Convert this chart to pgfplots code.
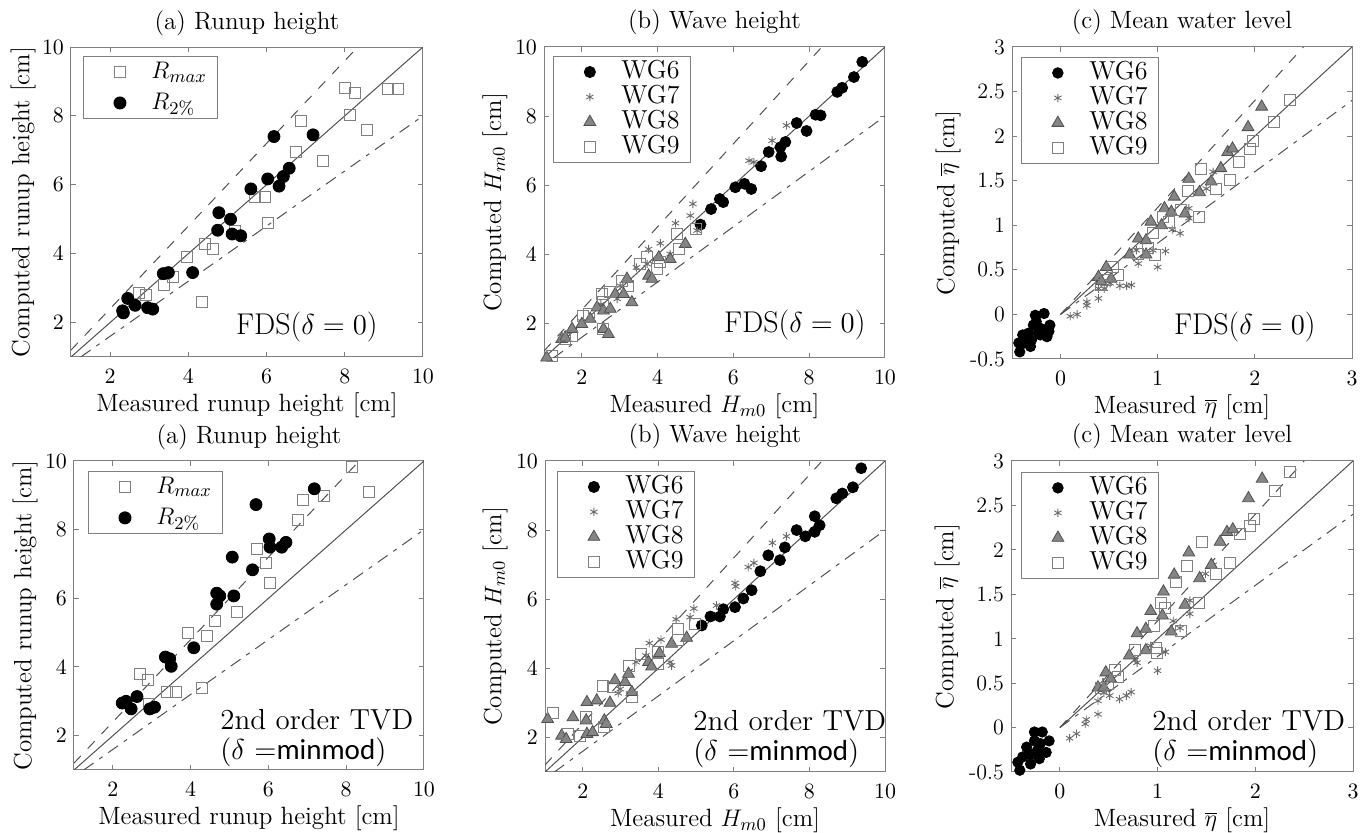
\documentclass[border=0pt]{standalone}
\usepackage{fontspec}
\newfontfamily\carlito{Carlito}
\usepackage{pgfplots}
\pgfplotsset{compat=1.18}
\definecolor{fr}{HTML}{808080}
\definecolor{ln}{HTML}{505050}
\definecolor{trif}{HTML}{858585}
\definecolor{astc}{HTML}{6A6A6A}
\pgfplotsset{
  mylegimg/.style={legend image code/.code={\path (0pt,0pt) (28pt,0pt); \draw[mark repeat=2,mark phase=2,##1] plot coordinates {(0pt,0pt)(14pt,0pt)(28pt,0pt)};}},
  base/.style={
    scale only axis, anchor=south west,
    axis line style={fr, line width=0.5pt},
    tick style={fr, line width=0.5pt},
    tick align=inside, major tick length=2.5pt,
    tick label style={font=\fontsize{11}{13}\selectfont, text=black},
    xticklabel style={yshift=-2.5pt},
    label style={font=\fontsize{12.5}{15}\selectfont},
    xlabel style={at={(rel axis cs:0.5,-0.155)}, anchor=center},
    ylabel style={anchor=center},
    title style={font=\fontsize{12.5}{15}\selectfont, at={(rel axis cs:0.5,1.078)}, anchor=center, yshift=-6pt},
    legend cell align=left,
    legend style={draw=fr, line width=0.5pt, font=\fontsize{13}{15}\selectfont, inner xsep=4pt, inner ysep=1.5pt, anchor=north west, nodes={inner xsep=1.5pt, inner ysep=0.5pt, text height=9pt, text depth=2.5pt}},
  },
  ab/.style={xmin=1,xmax=10,ymin=1,ymax=10,xtick={2,4,6,8,10},ytick={2,4,6,8,10}},
  cc/.style={xmin=-0.5,xmax=3,ymin=-0.5,ymax=3,xtick={0,1,2,3},ytick={-0.5,0,0.5,1,1.5,2,2.5,3},yticklabels={-0.5,0,0.5,1,1.5,2,2.5,3}},
  circ/.style={only marks, mylegimg, mark=*, mark size=#1, mark options={fill=black, draw=black}},
  sq/.style={only marks, mylegimg, mark=square, mark size=2.75pt, mark options={draw=fr, line width=0.5pt}},
  tri/.style={only marks, mylegimg, mark=triangle*, mark size=3.4pt, mark options={fill=trif, draw=ln, line width=0.4pt}},
  ast/.style={only marks, mylegimg, mark=asterisk, mark size=2.1pt, mark options={draw=astc, line width=0.45pt}},
  one/.style={forget plot, ln, line width=0.5pt},
  up/.style={forget plot, ln, line width=0.5pt, dash pattern=on 5pt off 5pt},
  lo/.style={forget plot, ln, line width=0.5pt, dash pattern=on 6pt off 3.5pt on 2pt off 3.5pt},
}
\newcommand{\linesab}{%
  \addplot[one] coordinates {(1,1)(10,10)};
  \addplot[up] coordinates {(1,1.2)(8.3333,10)};
  \addplot[lo] coordinates {(1.25,1)(10,8)};}
\newcommand{\linesc}{%
  \addplot[one] coordinates {(0,0)(3,3)};
  \addplot[up] coordinates {(0,0)(2.5,3)};
  \addplot[lo] coordinates {(0,0)(3,2.4)};}
\newcommand{\fds}{\node[anchor=east, font=\fontsize{15}{17}\selectfont, inner sep=0pt]}
\newcommand{\tvd}{\node[anchor=west, align=left, font=\fontsize{14.5}{15}\selectfont, inner sep=0pt]}
\begin{document}
\begin{tikzpicture}
\path[use as bounding box] (0,0) rectangle (683.5pt,416.5pt);
% ---------------- top (a)
\begin{axis}[base, ab, at={(35.5pt,238pt)}, width=176pt, height=155pt,
  title={(a) Runup height}, xlabel={Measured runup height [cm]}, ylabel={Computed runup height [cm]},
  ylabel style={at={(rel axis cs:-0.136,0.5)}},
  legend style={at={(rel axis cs:0.034,0.971)}, row sep=3pt}]
\linesab
\addplot[sq] coordinates {(2.75,2.87)(2.91,2.79)(3.39,3.09)(3.62,3.31)(3.97,3.91)(4.43,4.28)(4.64,4.13)(4.34,2.60)(5.19,4.67)(5.70,5.65)(5.96,5.65)(6.05,4.89)(6.75,6.94)(6.88,7.85)(7.45,6.70)(8.0,8.81)(8.13,8.04)(8.26,8.66)(8.56,7.58)(9.11,8.77)(9.36,8.77)};
\addlegendentry{$R_{max}$}
\addplot[circ=3pt] coordinates {(2.32,2.34)(2.34,2.28)(2.45,2.70)(2.64,2.50)(2.96,2.43)(3.09,2.39)(3.36,3.42)(3.49,3.45)(4.11,3.45)(4.75,4.68)(4.78,5.19)(5.08,5.0)(5.12,4.57)(5.34,4.52)(5.6,5.88)(6.03,6.17)(6.32,5.96)(6.43,6.24)(6.58,6.48)(6.19,7.40)(7.19,7.45)};
\addlegendentry{$R_{2\%}$}
\fds at (rel axis cs:0.872,0.097) {FDS($\delta = 0$)};
\end{axis}
% ---------------- top (b)
\begin{axis}[base, ab, at={(272pt,237.5pt)}, width=170.5pt, height=155.5pt,
  title={(b) Wave height}, xlabel={Measured $H_{m0}$ [cm]}, ylabel={Computed $H_{m0}$ [cm]},
  ylabel style={at={(rel axis cs:-0.144,0.5)}},
  legend style={at={(rel axis cs:0.026,0.971)}}]
\linesab
\addplot[circ=2.75pt] coordinates {(5.13,4.86)(5.41,5.31)(5.64,5.60)(5.73,5.51)(6.05,5.94)(6.29,6.04)(6.47,5.89)(6.73,6.55)(6.93,6.96)(7.24,7.10)(7.26,6.83)(7.37,7.25)(7.67,7.80)(7.93,7.57)(8.17,8.04)(8.30,8.02)(8.74,8.70)(8.87,8.82)(9.18,9.13)(9.40,9.57)};
\addlegendentry{WG6}
\addplot[ast] coordinates {(7.40,7.73)(7.02,7.29)(6.41,6.71)(6.54,6.67)(4.93,5.46)(4.86,5.12)(4.47,4.90)(4.07,4.32)(3.76,4.15)(4.33,4.01)(3.44,3.62)(3.72,3.72)(3.01,3.09)(2.93,2.71)(5.04,4.69)(2.0,2.05)(2.5,2.55)(1.6,1.6)};
\addlegendentry{WG7}
\addplot[tri] coordinates {(1.07,1.01)(1.47,1.55)(1.56,1.59)(1.74,1.84)(2.0,1.98)(2.22,2.13)(2.40,2.46)(2.57,2.37)(2.75,2.42)(2.88,2.85)(3.10,2.85)(3.19,3.29)(3.32,2.61)(2.57,1.84)(2.70,1.69)(3.76,3.38)(3.85,3.29)(4.03,3.91)(4.33,3.86)(4.73,4.30)};
\addlegendentry{WG8}
\addplot[sq] coordinates {(1.21,1.06)(1.56,1.55)(1.74,1.64)(2.04,2.22)(2.18,2.27)(2.53,2.85)(2.75,2.90)(2.57,2.61)(3.06,3.24)(3.23,3.09)(3.54,3.72)(3.72,3.91)(3.98,3.57)(4.07,3.77)(4.51,4.59)(4.56,4.15)(5.0,4.73)(2.57,1.84)};
\addlegendentry{WG9}
\fds at (rel axis cs:0.944,0.106) {FDS($\delta = 0$)};
\end{axis}
% ---------------- top (c)
\begin{axis}[base, cc, at={(506pt,237pt)}, width=170pt, height=156pt,
  title={(c) Mean water level}, xlabel={Measured $\overline{\eta}$ [cm]}, ylabel={Computed $\overline{\eta}$ [cm]},
  ylabel style={at={(rel axis cs:-0.188,0.5)}},
  legend style={at={(rel axis cs:0.026,0.968)}}]
\linesc
\addplot[circ=2.6pt] coordinates {(-0.43,-0.32)(-0.42,-0.42)(-0.39,-0.23)(-0.33,-0.21)(-0.31,-0.36)(-0.28,-0.12)(-0.26,-0.01)(-0.21,-0.23)(-0.20,-0.16)(-0.25,-0.08)(-0.17,0.01)(-0.14,-0.25)(-0.11,-0.12)(-0.12,-0.19)(-0.30,-0.29)(-0.37,-0.32)(-0.23,-0.21)};
\addlegendentry{WG6}
\addplot[ast] coordinates {(0.10,-0.02)(0.17,0.0)(0.27,0.10)(0.27,0.14)(0.39,0.18)(0.39,0.29)(0.45,0.29)(0.51,0.35)(0.61,0.32)(0.68,0.32)(0.73,0.33)(0.80,0.57)(0.78,0.72)(0.95,0.72)(1.0,0.53)(1.08,0.71)(1.15,0.95)(1.23,0.91)(1.32,1.19)(1.32,1.08)(1.50,1.41)(1.57,1.60)};
\addlegendentry{WG7}
\addplot[tri] coordinates {(0.39,0.42)(0.42,0.37)(0.47,0.53)(0.52,0.40)(0.71,0.67)(0.80,0.85)(0.88,0.83)(0.93,1.04)(0.88,0.67)(1.04,1.0)(1.07,1.19)(1.14,1.15)(1.17,1.32)(1.28,1.13)(1.32,1.52)(1.43,1.37)(1.55,1.49)(1.65,1.64)(1.72,1.82)(1.77,1.86)(1.93,2.10)(2.07,2.33)};
\addlegendentry{WG8}
\addplot[sq] coordinates {(0.42,0.33)(0.47,0.39)(0.54,0.53)(0.59,0.44)(0.80,0.68)(0.90,0.74)(0.95,0.91)(0.97,0.67)(1.05,1.09)(1.12,1.04)(1.24,1.17)(1.31,1.39)(1.43,1.09)(1.45,1.63)(1.60,1.41)(1.74,1.51)(1.84,1.71)(1.95,1.86)(1.98,1.94)(2.20,2.16)(2.36,2.40)};
\addlegendentry{WG9}
\fds at (rel axis cs:0.894,0.103) {FDS($\delta = 0$)};
\end{axis}
% ---------------- bottom (a)
\begin{axis}[base, ab, at={(37pt,31.5pt)}, width=175pt, height=154.5pt,
  title={(a) Runup height}, xlabel={Measured runup height [cm]}, ylabel={Computed runup height [cm]},
  ylabel style={at={(rel axis cs:-0.14,0.5)}},
  legend style={at={(rel axis cs:0.04,0.968)}, row sep=3pt}]
\linesab
\addplot[sq] coordinates {(2.71,3.80)(2.90,3.63)(2.93,2.93)(3.38,3.27)(3.62,3.27)(3.93,4.99)(4.30,3.40)(4.41,4.91)(4.62,5.35)(5.20,5.59)(5.70,7.43)(5.94,7.04)(6.04,6.44)(6.75,8.27)(6.88,8.86)(7.42,8.98)(8.15,9.83)(8.58,9.10)};
\addlegendentry{$R_{max}$}
\addplot[circ=3pt] coordinates {(2.24,2.95)(2.34,3.0)(2.47,2.78)(2.62,3.14)(2.95,2.78)(3.07,2.83)(3.35,4.29)(3.46,4.24)(3.50,4.02)(4.08,4.56)(4.67,5.83)(4.67,6.15)(4.75,6.07)(5.11,6.07)(5.07,7.20)(5.59,6.83)(5.68,8.73)(6.02,7.73)(6.04,7.49)(6.34,7.49)(6.45,7.63)(7.18,9.19)};
\addlegendentry{$R_{2\%}$}
\tvd at (rel axis cs:0.417,0.104) {2nd order TVD\\($\delta$ ={\carlito minmod})};
\end{axis}
% ---------------- bottom (b)
\begin{axis}[base, ab, at={(272.5pt,30.5pt)}, width=170pt, height=155.5pt,
  title={(b) Wave height}, xlabel={Measured $H_{m0}$ [cm]}, ylabel={Computed $H_{m0}$ [cm]},
  ylabel style={at={(rel axis cs:-0.147,0.5)}},
  legend style={at={(rel axis cs:0.035,0.968)}}]
\linesab
\addplot[circ=2.75pt] coordinates {(5.15,5.24)(5.38,5.50)(5.63,5.50)(5.72,5.71)(6.03,5.77)(6.25,6.02)(6.47,6.26)(6.70,6.81)(6.91,7.27)(7.22,7.13)(7.35,7.50)(7.66,8.0)(7.89,7.82)(8.14,8.40)(8.14,7.95)(8.27,8.14)(8.71,8.92)(8.87,9.06)(9.15,9.24)(9.37,9.79)};
\addlegendentry{WG6}
\addplot[ast] coordinates {(7.39,7.82)(7.02,7.63)(6.53,7.05)(6.38,6.93)(6.05,6.37)(6.03,6.47)(5.54,5.82)(4.94,5.73)(4.84,5.48)(4.47,5.42)(4.07,4.83)(3.76,4.73)(3.67,4.37)(3.41,4.18)(4.31,4.18)(4.35,4.08)(2.99,3.40)(2.94,3.28)};
\addlegendentry{WG7}
\addplot[tri] coordinates {(1.07,2.53)(1.44,2.05)(1.56,1.95)(1.74,2.58)(2.09,2.49)(2.11,2.10)(2.26,2.15)(2.11,3.02)(2.37,3.07)(2.57,2.49)(2.72,3.0)(2.62,2.39)(2.85,3.65)(3.12,3.60)(3.21,3.84)(3.30,3.31)(3.74,4.18)(3.82,4.05)(4.03,4.44)(4.35,4.71)(4.75,4.88)};
\addlegendentry{WG8}
\addplot[sq] coordinates {(1.22,2.70)(1.62,2.10)(1.93,2.05)(2.09,2.58)(2.56,2.29)(2.53,3.49)(2.79,3.45)(3.23,4.08)(3.30,3.16)(3.53,4.42)(4.0,4.47)(4.0,4.13)(4.53,5.15)(4.53,4.81)(4.97,5.29)};
\addlegendentry{WG9}
\tvd at (rel axis cs:0.435,0.106) {2nd order TVD\\($\delta$ ={\carlito minmod})};
\end{axis}
% ---------------- bottom (c)
\begin{axis}[base, cc, at={(505.5pt,30.5pt)}, width=171pt, height=155.5pt,
  title={(c) Mean water level}, xlabel={Measured $\overline{\eta}$ [cm]}, ylabel={Computed $\overline{\eta}$ [cm]},
  ylabel style={at={(rel axis cs:-0.187,0.5)}},
  legend style={at={(rel axis cs:0.029,0.965)}}]
\linesc
\addplot[circ=2.6pt] coordinates {(-0.43,-0.39)(-0.41,-0.48)(-0.38,-0.33)(-0.34,-0.22)(-0.30,-0.41)(-0.28,-0.30)(-0.26,-0.15)(-0.26,-0.05)(-0.21,-0.35)(-0.20,-0.18)(-0.18,-0.05)(-0.14,-0.28)(-0.11,-0.15)(-0.32,-0.30)(-0.23,-0.26)};
\addlegendentry{WG6}
\addplot[ast] coordinates {(0.10,-0.12)(0.17,-0.07)(0.26,0.04)(0.27,0.09)(0.39,0.15)(0.39,0.30)(0.45,0.39)(0.51,0.36)(0.61,0.32)(0.68,0.36)(0.73,0.40)(0.79,0.73)(0.77,0.76)(0.93,0.92)(1.0,0.64)(1.08,0.85)(1.16,1.20)(1.23,1.12)(1.33,1.28)(1.33,1.43)(1.49,1.73)(1.57,1.83)};
\addlegendentry{WG7}
\addplot[tri] coordinates {(0.39,0.45)(0.47,0.62)(0.52,0.55)(0.45,0.45)(0.71,0.81)(0.79,1.06)(0.88,1.11)(0.88,0.87)(0.93,1.31)(1.05,1.26)(1.06,1.53)(1.14,1.08)(1.17,1.72)(1.28,1.38)(1.32,1.97)(1.43,1.68)(1.55,1.83)(1.64,2.09)(1.71,2.20)(1.77,2.23)(1.93,2.58)(2.07,2.80)};
\addlegendentry{WG8}
\addplot[sq] coordinates {(0.42,0.45)(0.49,0.49)(0.56,0.65)(0.59,0.57)(0.77,0.87)(0.96,1.14)(0.98,0.89)(0.99,0.84)(1.04,1.40)(1.08,1.34)(1.24,1.09)(1.30,1.82)(1.19,1.64)(1.42,1.40)(1.45,2.09)(1.60,1.73)(1.74,1.85)(1.84,2.18)(1.95,2.27)(1.99,2.35)(2.20,2.66)(2.36,2.88)};
\addlegendentry{WG9}
\tvd at (rel axis cs:0.412,0.106) {2nd order TVD\\($\delta$ ={\carlito minmod})};
\end{axis}
\end{tikzpicture}
\end{document}
